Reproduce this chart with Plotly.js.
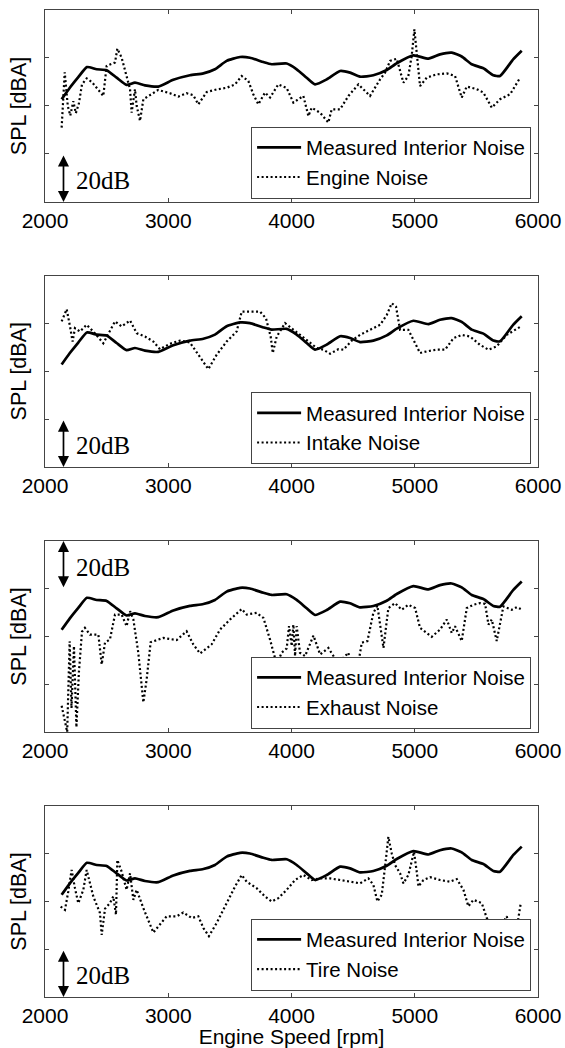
<!DOCTYPE html>
<html>
<head>
<meta charset="utf-8">
<script src="https://cdn.plot.ly/plotly-3.0.1.min.js"></script>
<style>html,body{margin:0;padding:0;background:#fff;}#chart{width:565px;height:1048px;}</style>
</head>
<body>
<div id="chart"></div>
<script>
// ---- data (engine speed in rpm, SPL in dBA, relative scale) ----
const rpmMeasured = [2135,2200,2270,2340,2419,2500,2581,2662,2730,2811,2919,3041,3176,3285,3379,3474,3582,3663,3772,3839,3961,4042,4123,4191,4286,4394,4475,4556,4664,4773,4854,4989,5111,5205,5300,5381,5462,5557,5638,5692,5800,5868];
const splMeasured = [62.8,67.5,72.0,76.2,75.3,74.9,71.8,68.8,69.7,68.6,68.1,70.9,72.8,73.6,75.3,78.8,80.4,80.1,78.3,77.4,77.7,75.3,71.8,69.0,71.1,74.6,73.9,72.2,72.8,75.0,77.8,81.1,79.7,81.5,82.2,80.6,77.4,75.7,72.8,72.5,79.5,83.0];

const rpmEngine = [2135,2160,2185,2205,2230,2250,2275,2300,2338,2380,2473,2500,2568,2587,2622,2662,2690,2703,2730,2744,2771,2798,2838,2919,3014,3082,3149,3203,3244,3312,3393,3474,3542,3596,3650,3690,3731,3785,3826,3893,3961,4015,4096,4137,4164,4232,4299,4326,4394,4462,4543,4637,4719,4759,4800,4854,4908,4948,4975,4997,5016,5043,5097,5178,5260,5327,5381,5422,5503,5557,5625,5692,5774,5855];
const splEngine = [51,74,60,56,62,57,61,69,71.5,70,64.2,76.7,78.1,83.9,80.1,72.5,67,57.2,67,60,53.8,62.8,64.2,66.7,65.3,63.9,65.3,64.5,60.7,65.8,66.9,67.6,69.0,72.5,70.4,64.9,60.7,65.6,63.5,69.0,67.5,61.4,64.2,55.8,59.3,57.2,53.1,58.6,58.6,64.2,69.0,64.2,71.1,73.9,78.8,79.7,69.7,72.5,80.8,91.9,82.2,68.3,71.8,73.2,73.6,72.5,63.5,68.1,67.0,65.6,59.3,62.8,64.9,71.8];

const rpmIntake = [2135,2176,2203,2224,2243,2284,2338,2392,2473,2514,2568,2622,2690,2744,2811,2879,2933,3014,3095,3176,3257,3325,3393,3474,3555,3596,3677,3745,3793,3831,3848,3880,3948,4015,4137,4205,4259,4313,4380,4421,4489,4556,4637,4719,4773,4813,4848,4881,4948,4989,5043,5097,5178,5246,5314,5381,5449,5530,5598,5665,5746,5860];
const splIntake = [80.8,85.9,78.7,72.4,78.0,76.6,79.4,76.6,71.7,75.9,80.8,78.7,81.2,75.9,74.5,72.4,69.2,71.5,72.8,72.0,66.2,60.9,66.9,72.4,76.6,84.9,84.9,84.9,82.1,74.5,67.6,74.5,80.1,77.3,72.4,69.7,69.0,67.3,69.2,69.0,72.8,75.2,77.3,79.4,83.5,88.4,87.0,77.3,77.3,73.1,67.6,68.3,69.0,69.0,73.8,75.2,74.5,71.0,69.0,70.4,75.2,78.7];

const rpmExhaust = [2135,2160,2180,2200,2215,2235,2255,2275,2300,2324,2365,2433,2460,2487,2527,2568,2622,2662,2690,2717,2757,2798,2825,2857,2960,3068,3149,3203,3258,3352,3420,3501,3596,3636,3717,3772,3826,3880,3920,3961,3980,4002,4015,4029,4042,4069,4110,4178,4232,4299,4367,4421,4462,4475,4543,4570,4616,4664,4697,4746,4786,4840,4894,4948,5003,5043,5138,5205,5260,5300,5327,5381,5422,5476,5530,5571,5598,5625,5665,5719,5787,5828,5860];
const splExhaust = [31,25,20,58,30,56,22,45,62,63.6,60.8,60.8,48.3,57.4,58.8,69.2,69.2,64.3,70.6,67.1,53.2,32.4,42.1,57.6,59.4,58.5,62.2,56.7,52.9,56.7,62.9,67.1,71.5,69.2,69.9,67.8,58.7,48.3,53.2,55.0,64.3,56.0,65.0,51.8,64.3,53.2,51.8,60.4,52.5,55.2,49.7,51.1,53.2,48.3,49.0,57.4,58.1,69.9,72.9,55.2,71.9,74.0,71.2,73.3,71.9,63.6,59.9,62.9,67.1,61.5,64.3,58.1,71.9,73.3,74.0,73.7,65.0,67.1,58.1,72.6,71.2,72.3,71.5];

const rpmTire = [2127,2162,2189,2216,2243,2270,2311,2338,2392,2446,2460,2487,2527,2554,2576,2587,2622,2662,2690,2717,2744,2798,2879,2987,3068,3122,3190,3244,3285,3330,3393,3474,3542,3596,3636,3717,3785,3839,3893,3961,4029,4096,4164,4232,4313,4394,4475,4556,4624,4664,4697,4732,4759,4786,4813,4840,4881,4908,4948,4975,4994,5016,5030,5070,5124,5205,5287,5341,5395,5435,5476,5544,5584,5638,5692,5746,5774,5828,5860];
const splTire = [57.9,56.5,64.2,73.2,65.6,59.3,64.9,73.2,62.1,55.2,46,57,59.3,62.1,54.5,77.4,72.5,64.9,71.8,60.7,64.9,57.2,47,53.8,53.8,55.4,53.1,53.8,48.9,45.5,51,59.3,66.3,71.1,68.3,65.6,62.1,60.0,61.4,64.9,69.0,71.1,69.0,69.7,69.7,69.0,68.3,67.6,69.7,67.0,60.0,62.8,74.6,87.1,80.2,75.3,71.8,67.6,71.1,77.4,80.8,72.5,66.3,69.0,70.2,69.0,68.3,69.4,64.9,58.0,60.7,59.3,53.1,49.6,48.9,53.8,48.9,48.9,59.3];

const xTicks = [2000,3000,4000,5000,6000];
const yTicks = [20,40,60,80,100];
const componentNames = ['Engine Noise','Intake Noise','Exhaust Noise','Tire Noise'];
const measuredName = 'Measured Interior Noise';
const scaleLabel = '20dB';
const yTitle = 'SPL [dBA]';
const xTitle = 'Engine Speed [rpm]';

// ---- layout helpers ----
const components = [[rpmEngine,splEngine],[rpmIntake,splIntake],[rpmExhaust,splExhaust],[rpmTire,splTire]];
const domains = [[0.8055,1.0],[0.537,0.731],[0.2685,0.462],[0.0,0.1935]];
const legendY = [0.809,0.540,0.272,0.0065];
const arrowTop = [false,false,true,false];
const SANS = 'Liberation Sans, Arial, Helvetica, sans-serif';
const SERIF = 'Liberation Serif, Times New Roman, serif';

const traces = [];
const layout = {
  width:565, height:1048,
  margin:{l:45, r:27, t:10, b:51},
  paper_bgcolor:'#fff', plot_bgcolor:'#fff',
  font:{family:SANS, color:'#000', size:21},
  showlegend:true,
  annotations:[]
};

components.forEach((c,i)=>{
  const k = i===0 ? '' : String(i+1);
  const xa = 'x'+k, ya = 'y'+k;
  const leg = 'legend'+k;
  traces.push({
    x:rpmMeasured, y:splMeasured, xaxis:xa, yaxis:ya, type:'scatter', mode:'lines',
    name:measuredName, legend:leg,
    line:{color:'#000', width:2.7, shape:'spline', smoothing:0.5}
  });
  traces.push({
    x:c[0], y:c[1], xaxis:xa, yaxis:ya, type:'scatter', mode:'lines',
    name:componentNames[i], legend:leg,
    line:{color:'#000', width:2.2, dash:'2px,2.5px'}
  });
  layout['xaxis'+k] = {
    domain:[0,1], anchor:ya, range:[2000,6000], tickvals:xTicks,
    ticks:'inside', ticklen:4, tickcolor:'#444', showline:true, linecolor:'#444', linewidth:1,
    mirror:'ticks', showgrid:false, zeroline:false,
    tickfont:{family:SANS, size:21, color:'#000'},
    title: i===3 ? {text:xTitle, font:{family:SANS, size:21, color:'#000'}, standoff:2} : {text:''}
  };
  layout['yaxis'+k] = {
    domain:domains[i], anchor:xa, range:[20,100], tickvals:yTicks,
    ticks:'inside', ticklen:4, tickcolor:'#444', showline:true, linecolor:'#444', linewidth:1,
    mirror:'ticks', showgrid:false, zeroline:false, showticklabels:false,
    title:{text:yTitle, font:{family:SANS, size:21.5, color:'#000'}, standoff:11}
  };
  layout[leg] = {
    x:0.986, xanchor:'right', y:legendY[i], yanchor:'bottom',
    bgcolor:'#fff', bordercolor:'#444', borderwidth:1,
    font:{family:SANS, size:20.5, color:'#000'}, tracegroupgap:0, itemwidth:44
  };
  const y0 = arrowTop[i] ? yTicks[4] : yTicks[0];
  const y1 = arrowTop[i] ? yTicks[3] : yTicks[1];
  layout.annotations.push({
    xref:xa, yref:ya, axref:xa, ayref:ya,
    x:2150, y:y0, ax:2150, ay:y1, text:'', showarrow:true,
    arrowhead:2, arrowside:'end+start', arrowsize:1.3, arrowwidth:1.7, arrowcolor:'#000',
    standoff:0, startstandoff:0
  });
  layout.annotations.push({
    xref:xa, yref:ya, x:2232, y:(y0+y1)/2 - (arrowTop[i]? 1.2 : 1.0), xanchor:'left', yanchor:'middle',
    text:scaleLabel, showarrow:false, font:{family:SERIF, size:25, color:'#000'}
  });
});

Plotly.newPlot('chart', traces, layout, {staticPlot:true, displayModeBar:false});
</script>
</body>
</html>
